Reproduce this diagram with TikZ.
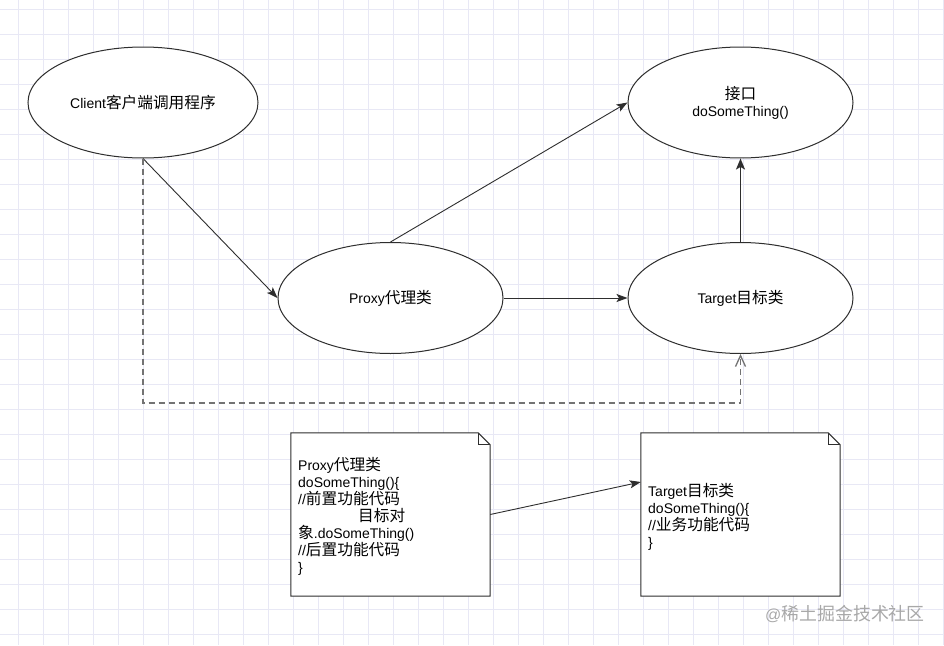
\documentclass[tikz,border=0pt]{standalone}
\usepackage{fontspec}
\setmainfont{Liberation Sans}
\newfontfamily\cjk[Scale=1.12]{Noto Sans CJK SC}
\newcommand{\zh}[1]{{\cjk #1}}
\usetikzlibrary{shapes.geometric,arrows.meta,calc}
\definecolor{gridc}{HTML}{E8E8F5}
\definecolor{edgec}{HTML}{2E2E2E}
\definecolor{dashc}{HTML}{737373}
\definecolor{wmc}{HTML}{A8A8A8}
\begin{document}
\begin{tikzpicture}[x=1pt,y=-1pt,
  oval/.style={ellipse,draw=edgec,line width=1pt,fill=white,inner sep=0pt,
    minimum width=225pt,minimum height=111pt,align=center,
    font=\fontsize{14}{17}\selectfont},
  notebox/.style={rectangle,inner sep=0pt,minimum width=199pt,minimum height=163pt},
  noteline/.style={draw=edgec,line width=1pt},
  notetext/.style={anchor=west,align=left,inner sep=0pt,
    font=\fontsize{14}{17}\selectfont},
  conn/.style={draw=edgec,line width=0.9pt,
    -{Stealth[length=11pt,width=8pt,inset=2.5pt]}},
  thickconn/.style={draw=edgec,line width=1.8pt,
    -{Stealth[length=11pt,width=9pt,inset=2.5pt]}},
  dashconn/.style={draw=dashc,line width=1.8pt,dash pattern=on 6pt off 4pt,
    -{Straight Barb[length=11pt,width=10pt,line width=1.3pt]}},
  gridline/.style={draw=gridc,line width=0.6pt}]
\useasboundingbox (0,0) rectangle (944,645);
\fill[white] (0,0) rectangle (944,645);
% grid
\foreach \gx in {18,43,...,943} { \draw[gridline] (\gx,0) -- (\gx,645); }
\foreach \gy in {9,34,...,644} { \draw[gridline] (0,\gy) -- (944,\gy); }

% ellipses
\node[oval,minimum width=230pt] (cl) at (143,102.5) {Client\zh{客户端调用程序}};
\node[oval] (jk) at (740.5,102.5) {\zh{接口}\\doSomeThing()};
\node[oval] (px) at (390.5,298) {Proxy\zh{代理类}};
\node[oval] (tg) at (740.5,298) {Target\zh{目标类}};

% notes
\node[notebox] (pn) at (390.5,514.5) {};
\node[notebox] (tn) at (740.5,514.5) {};
\foreach \n in {pn,tn} {
  \draw[noteline,fill=white] (\n.north west) -- ($(\n.north east)+(-12,0)$)
    -- ($(\n.north east)+(0,12)$) -- (\n.south east) -- (\n.south west) -- cycle;
  \draw[noteline] ($(\n.north east)+(-12,0)$) -- ($(\n.north east)+(-12,12)$)
    -- ($(\n.north east)+(0,12)$);
}
\node[notetext] (pnt) at (298,516) {Proxy\zh{代理类}\\doSomeThing()\{\\//\zh{前置功能代码}\\\hspace*{60pt}\zh{目标对}\\\zh{象}.doSomeThing()\\//\zh{后置功能代码}\\\}};
\node[notetext] (tnt) at (648,516.5) {Target\zh{目标类}\\doSomeThing()\{\\//\zh{业务功能代码}\\\}};

% connectors
\draw[conn] (cl.south) -- (px.west);
\draw[conn] (px.north) -- (jk.west);
\draw[conn] (px.east) -- (tg.west);
\draw[thickconn] (tg.north) -- (jk.south);
\coordinate (dy) at (0,403);
\draw[dashconn] (cl.south) -- (cl.south |- dy) -- (tg.south |- dy) -- (tg.south);
\draw[conn] (pn.east) -- ($(tn.west)+(0,-32.5)$);

% watermark
\node[text=wmc,inner sep=0pt,font=\fontsize{16}{18}\selectfont] (wm) at (845,614) {@\zh{稀土掘金技术社区}};
\end{tikzpicture}
\end{document}
